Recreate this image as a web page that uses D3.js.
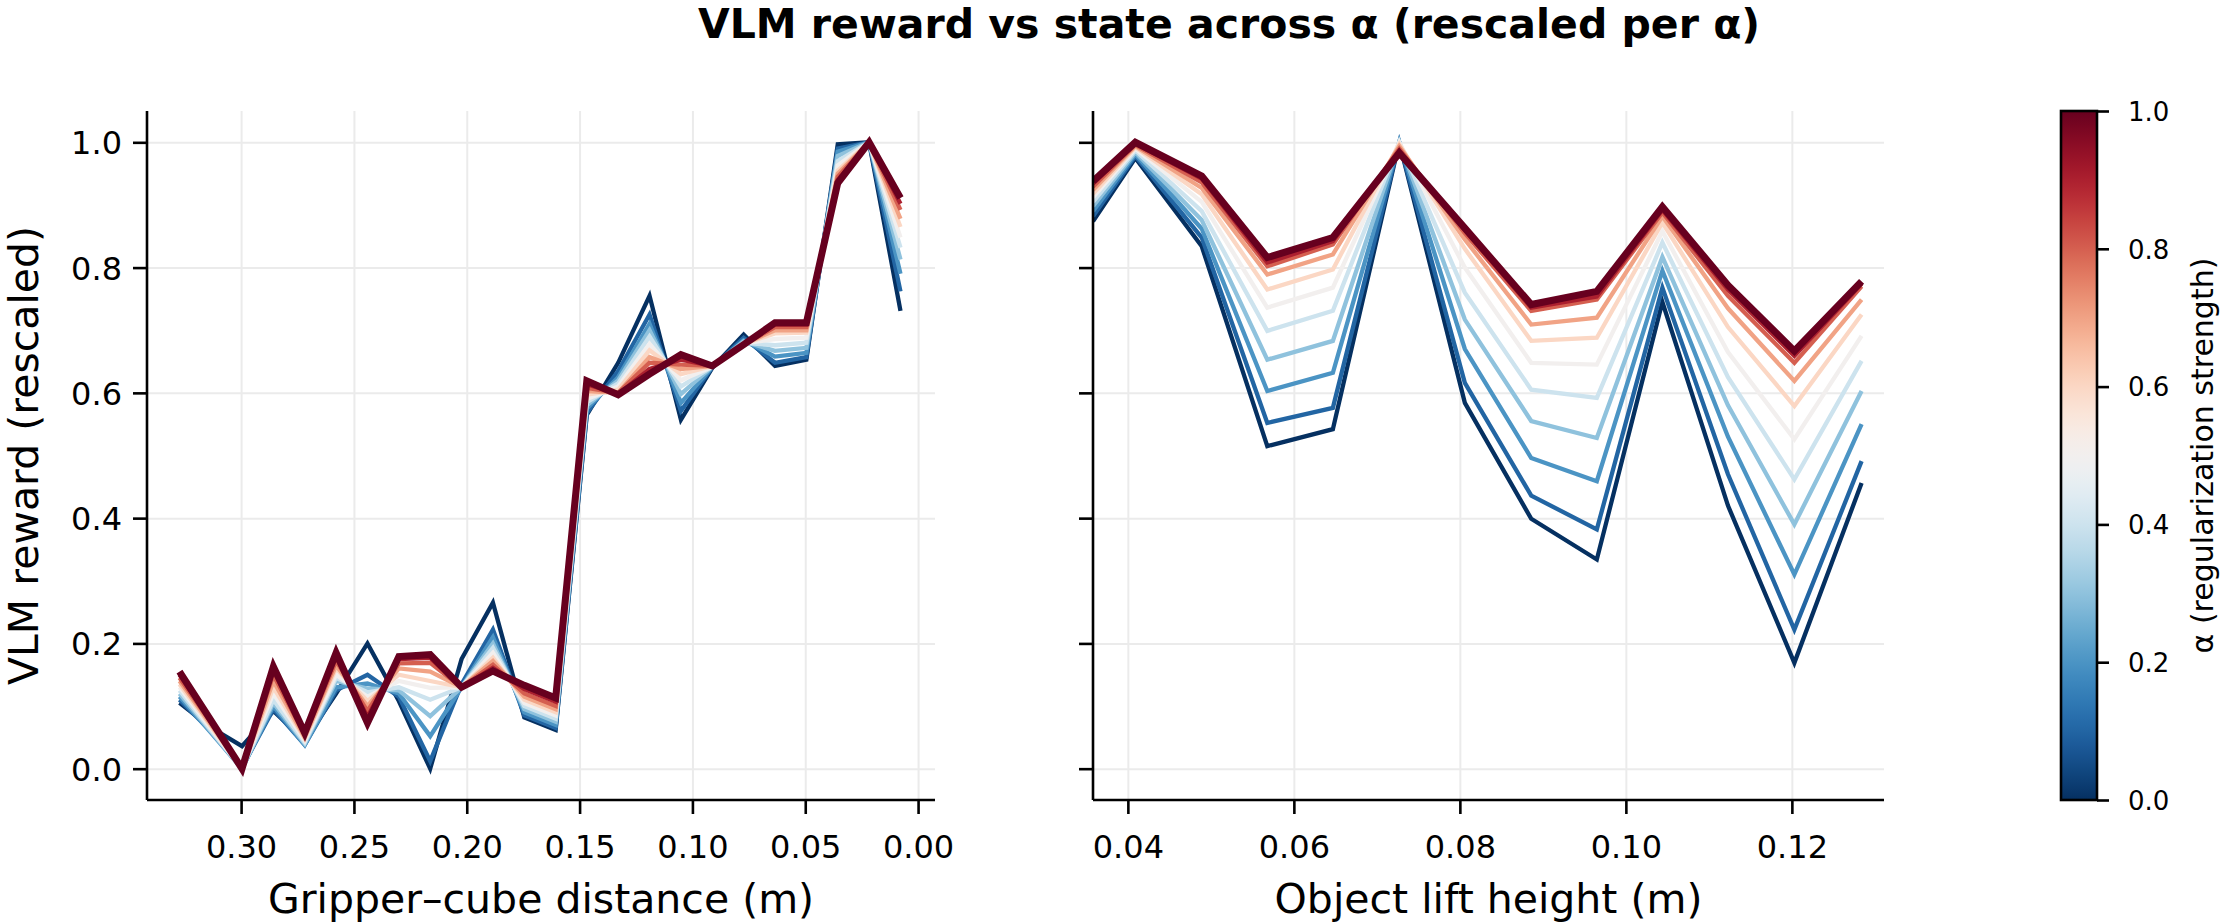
<!DOCTYPE html>
<html>
<head>
    <meta charset='utf-8' />
    <title>VLM reward vs state</title>
    <script src="https://cdn.jsdelivr.net/npm/d3@7"></script>
	<style type="text/css">
		body { margin: 0; background: #fff; }
		#chart { width: 2221px; height: 923px; }
		svg text { font-family: "DejaVu Sans", sans-serif; fill: #000; }
		.grid line { stroke: #ebebeb; stroke-width: 2px; }
		.grid path { display: none; }
		.axis path, .axis line { stroke: #000; stroke-width: 2.6px; }
		.axis text { font-size: 32px; }
		.cbar text { font-size: 26px; }
	</style>
</head>
<body>
<div id="chart"></div>

<script type="text/javascript">
	// alpha values (one line per alpha)
	var alphas = [0, 0.1, 0.2, 0.3, 0.4, 0.5, 0.6, 0.7, 0.8, 0.9, 1.0];

	// left panel: gripper-cube distance (m)
	var distX = [0.3273, 0.3135, 0.2996, 0.2857, 0.2718, 0.2579, 0.2440, 0.2301, 0.2162, 0.2023, 0.1884, 0.1745,
		0.1606, 0.1468, 0.1329, 0.1190, 0.1051, 0.0912, 0.0773, 0.0634, 0.0495, 0.0356, 0.0217, 0.0078];

	// rescaled reward per alpha (rows follow alphas)
	var distReward = [
		[.105,.066,.036,.092,.045,.120,.200,.108,.000,.175,.265,.082,.062,.565,.648,.755,.557,.640,.693,.643,.653,.997,1.00,.731],
		[.110,.060,.002,.095,.038,.125,.150,.115,.012,.135,.222,.085,.065,.568,.635,.725,.571,.641,.688,.648,.657,.990,1.00,.762],
		[.115,.058,.000,.100,.038,.130,.136,.120,.052,.130,.210,.090,.070,.575,.625,.710,.584,.641,.684,.658,.664,.985,1.00,.790],
		[.120,.060,.000,.105,.040,.140,.128,.125,.084,.130,.200,.095,.075,.580,.620,.700,.598,.642,.682,.667,.672,.978,1.00,.813],
		[.125,.062,.000,.110,.042,.145,.122,.130,.110,.130,.193,.100,.080,.585,.615,.690,.610,.642,.680,.676,.680,.970,1.00,.832],
		[.130,.065,.000,.120,.045,.150,.115,.140,.129,.130,.185,.105,.085,.590,.610,.678,.620,.642,.679,.686,.688,.963,1.00,.848],
		[.135,.068,.000,.130,.048,.160,.108,.150,.140,.130,.177,.110,.090,.597,.605,.668,.630,.643,.678,.695,.696,.955,1.00,.865],
		[.140,.071,.000,.140,.050,.165,.100,.160,.155,.130,.172,.115,.095,.603,.600,.657,.638,.643,.678,.700,.700,.950,1.00,.878],
		[.145,.074,.000,.150,.053,.172,.092,.168,.169,.130,.166,.120,.100,.608,.600,.648,.645,.643,.677,.705,.705,.945,1.00,.892],
		[.150,.076,.000,.157,.055,.178,.083,.175,.177,.130,.161,.127,.107,.614,.598,.638,.653,.643,.677,.709,.709,.940,1.00,.902],
		[.155,.078,.000,.163,.057,.185,.073,.179,.182,.130,.156,.133,.113,.619,.597,.630,.661,.643,.677,.712,.712,.935,1.00,.911]
	];

	// right panel: object lift height (m)
	var liftX = [0.0358, 0.0409, 0.0489, 0.0568, 0.0647, 0.0727, 0.0806, 0.0886, 0.0965, 0.1044, 0.1123, 0.1203, 0.1284];

	var liftReward = [
		[.874,.975,.834,.515,.542,1.00,.584,.399,.334,.745,.420,.169,.456],
		[.882,.978,.848,.552,.576,1.00,.616,.436,.382,.768,.470,.222,.491],
		[.890,.981,.862,.603,.632,1.00,.670,.496,.459,.795,.530,.310,.550],
		[.898,.984,.876,.653,.683,1.00,.717,.555,.528,.817,.580,.390,.603],
		[.905,.987,.890,.699,.731,1.00,.760,.605,.592,.840,.625,.462,.651],
		[.912,.990,.905,.736,.768,1.00,.800,.648,.645,.858,.665,.526,.691],
		[.918,.992,.917,.765,.797,.997,.830,.683,.688,.872,.705,.579,.725],
		[.924,.994,.927,.789,.821,.994,.845,.709,.720,.882,.735,.619,.749],
		[.929,.996,.936,.802,.837,.990,.855,.731,.749,.888,.755,.648,.770],
		[.934,.998,.942,.808,.842,.987,.860,.736,.754,.892,.765,.659,.774],
		[.938,1.00,.946,.816,.848,.983,.863,.741,.762,.897,.772,.667,.778]
	];

	var yTicks = [0, 0.2, 0.4, 0.6, 0.8, 1.0];
	var distTicks = [0.30, 0.25, 0.20, 0.15, 0.10, 0.05, 0.00];
	var liftTicks = [0.04, 0.06, 0.08, 0.10, 0.12];
	var cbarTicks = [0, 0.2, 0.4, 0.6, 0.8, 1.0];

	var width = 2221, height = 923;
	var plotTop = 111, plotBottom = 800;

	var svg = d3.select("#chart").append("svg")
		.attr("width", width)
		.attr("height", height);

	var y = d3.scaleLinear().domain([-0.05, 1.05]).range([plotBottom, plotTop]);

	function color(a) { return d3.interpolateRdBu(1 - a); }

	function drawPanel(id, xs, rows, xDomain, left, right, ticks, xLabel, showYLabels) {
		var x = d3.scaleLinear().domain(xDomain).range([left, right]);
		var g = svg.append("g");

		// grid
		g.append("g").attr("class", "grid")
			.attr("transform", "translate(0," + plotBottom + ")")
			.call(d3.axisBottom(x).tickValues(ticks).tickSize(-(plotBottom - plotTop)).tickFormat(""));
		g.append("g").attr("class", "grid")
			.attr("transform", "translate(" + left + ",0)")
			.call(d3.axisLeft(y).tickValues(yTicks).tickSize(-(right - left)).tickFormat(""));

		g.append("clipPath").attr("id", "clip-" + id)
			.append("rect")
			.attr("x", left).attr("y", plotTop)
			.attr("width", right - left).attr("height", plotBottom - plotTop);

		var line = d3.line()
			.x(function(d, i) { return x(xs[i]); })
			.y(function(d) { return y(d); });

		g.append("g").attr("clip-path", "url(#clip-" + id + ")")
			.selectAll("path")
			.data(rows)
		  .enter().append("path")
			.attr("d", line)
			.attr("fill", "none")
			.attr("stroke", function(d, i) { return color(alphas[i]); })
			.attr("stroke-width", function(d, i) { return alphas[i] === 1 ? 7 : 4.3; })
			.attr("stroke-linejoin", "miter")
			.attr("stroke-linecap", "butt");

		// axes
		var xa = g.append("g").attr("class", "axis")
			.attr("transform", "translate(0," + plotBottom + ")")
			.call(d3.axisBottom(x).tickValues(ticks).tickSize(14).tickSizeOuter(0).tickFormat(d3.format(".2f")));
		xa.select(".domain").attr("d", "M" + left + ",0H" + right);
		xa.selectAll("text").attr("y", 58).attr("dy", 0);

		var ya = g.append("g").attr("class", "axis")
			.attr("transform", "translate(" + left + ",0)")
			.call(d3.axisLeft(y).tickValues(yTicks).tickSize(14).tickSizeOuter(0)
				.tickFormat(showYLabels ? d3.format(".1f") : ""));
		ya.select(".domain").attr("d", "M0," + plotTop + "V" + plotBottom);
		ya.selectAll("text").attr("x", -25).attr("dy", "0.36em");

		svg.append("text")
			.attr("x", (left + right) / 2)
			.attr("y", 913)
			.attr("text-anchor", "middle")
			.style("font-size", "41px")
			.text(xLabel);
	}

	drawPanel("dist", distX, distReward, [0.3417, -0.0075], 147, 935, distTicks, "Gripper\u2013cube distance (m)", true);
	drawPanel("lift", liftX, liftReward, [0.0358, 0.1311], 1093, 1884, liftTicks, "Object lift height (m)", false);

	svg.append("text")
		.attr("transform", "translate(38," + (plotTop + plotBottom) / 2 + ") rotate(-90)")
		.attr("text-anchor", "middle")
		.style("font-size", "41px")
		.text("VLM reward (rescaled)");

	svg.append("text")
		.attr("x", 1229)
		.attr("y", 38)
		.attr("text-anchor", "middle")
		.style("font-size", "41px")
		.style("font-weight", "bold")
		.text("VLM reward vs state across \u03b1 (rescaled per \u03b1)");

	// colorbar
	var cbLeft = 2061, cbRight = 2097;
	var cb = d3.scaleLinear().domain([0, 1]).range([plotBottom, plotTop]);
	var grad = svg.append("defs").append("linearGradient")
		.attr("id", "cbgrad")
		.attr("x1", 0).attr("y1", 1).attr("x2", 0).attr("y2", 0);
	grad.selectAll("stop")
		.data(d3.range(0, 1.0001, 0.02))
	  .enter().append("stop")
		.attr("offset", function(d) { return d; })
		.attr("stop-color", function(d) { return color(d); });

	svg.append("rect")
		.attr("x", cbLeft).attr("y", plotTop)
		.attr("width", cbRight - cbLeft).attr("height", plotBottom - plotTop)
		.attr("fill", "url(#cbgrad)")
		.attr("stroke", "#000")
		.attr("stroke-width", 2.6);

	var ca = svg.append("g").attr("class", "axis cbar")
		.attr("transform", "translate(" + cbRight + ",0)")
		.call(d3.axisRight(cb).tickValues(cbarTicks).tickSize(12).tickFormat(d3.format(".1f")));
	ca.select(".domain").remove();
	ca.selectAll("text").attr("x", 31).attr("dy", "0.36em");

	svg.append("text")
		.attr("transform", "translate(2213," + (plotTop + plotBottom) / 2 + ") rotate(-90)")
		.attr("text-anchor", "middle")
		.style("font-size", "30px")
		.text("\u03b1 (regularization strength)");
</script>
</body>
</html>
